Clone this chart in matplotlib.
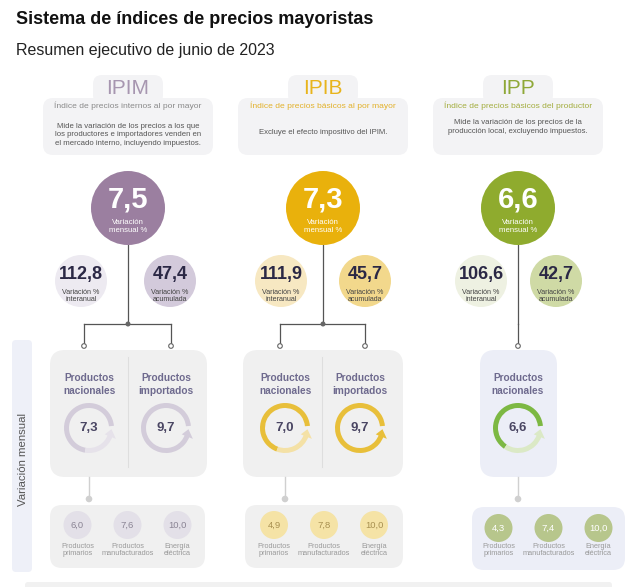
import matplotlib
matplotlib.use('Agg')
import matplotlib.pyplot as plt
from matplotlib.patches import Circle, Wedge, FancyBboxPatch, Polygon
import numpy as np

plt.rcParams['font.family'] = ['Liberation Sans', 'DejaVu Sans']

# datos
titulo = 'Sistema de índices de precios mayoristas'
subtitulo = 'Resumen ejecutivo de junio de 2023'

indices = ['IPIM', 'IPIB', 'IPP']
nombres = ['Índice de precios internos al por mayor',
           'Índice de precios básicos al por mayor',
           'Índice de precios básicos del productor']
descripciones = ['Mide la variación de los precios a los que\nlos productores e importadores venden en\nel mercado interno, incluyendo impuestos.',
                 'Excluye el efecto impositivo del IPIM.',
                 'Mide la variación de los precios de la\nproducción local, excluyendo impuestos.']
var_mensual = [7.5, 7.3, 6.6]
var_interanual = [112.8, 111.9, 106.6]
var_acumulada = [47.4, 45.7, 42.7]
prod_nacionales = [7.3, 7.0, 6.6]
prod_importados = [9.7, 9.7, None]
componentes = ['Productos\nprimarios', 'Productos\nmanufacturados', 'Energía\neléctrica']
comp_valores = [[6.0, 7.6, 10.0],
                [4.9, 7.8, 10.0],
                [4.3, 7.4, 10.0]]

# colores por indice
c_titulo = ['#a796b0', '#e8b41c', '#8fa838']
c_nombre = ['#8a8a8a', '#e2b12a', '#a3ad3e']
c_grande = ['#9b7fa0', '#e9b10c', '#8fab2e']
c_chico1 = ['#edeaf1', '#f7e8c2', '#eef1e2']
c_chico2 = ['#d3cadb', '#f2d88c', '#cfdaa5']
c_anillo = ['#d3ccda', '#e8bf3a', '#7db843']
c_anillo2 = ['#e6e2ea', '#f4e1a6', '#dbe9c6']
c_panel = ['#f0f0f0', '#f0f0f0', '#eceef7']
c_comp = ['#e3e0e8', '#f5e3a6', '#b7c68c']
c_comp_txt = ['#8a8494', '#a89050', '#ffffff']

# layout (pixeles)
W, H = 640, 587
cols = [128, 323, 518]
off_chicos = [(-47, 42), (-42, 42), (-37, 38)]
panel_x = [(50, 207), (243, 403), (480, 557)]
ring_x = [(89, 166), (285, 360), (518, None)]
divisor = [128, 322, None]
comp_panel = [(50, 205, 505), (245, 403, 505), (472, 625, 507)]


def Y(y):
    return H - y


def fmt(v):
    return f'{v:.1f}'.replace('.', ',')


def caja(ax, x0, x1, y0, y1, color, r):
    ax.add_patch(FancyBboxPatch((x0, Y(y1)), x1 - x0, y1 - y0,
                                boxstyle=f'round,pad=0,rounding_size={r}',
                                fc=color, ec='none', zorder=1))


def anillo(ax, x, y, v, c1, c2):
    a1 = 5
    a2 = a1 + v * 35
    ax.add_patch(Wedge((x, Y(y)), 25, a1, min(a2, 340), width=5, fc=c1, ec='none', zorder=3))
    if a2 < 340:
        ax.add_patch(Wedge((x, Y(y)), 25, a2, 340, width=5, fc=c2, ec='none', zorder=3))
    ca = c1 if a2 >= 340 else c2
    b = np.radians(338)
    t = np.radians(357)
    pts = [(x + 17 * np.cos(b), Y(y) + 17 * np.sin(b)),
           (x + 29 * np.cos(b), Y(y) + 29 * np.sin(b)),
           (x + 22.5 * np.cos(t), Y(y) + 22.5 * np.sin(t))]
    ax.add_patch(Polygon(pts, closed=True, fc=ca, ec='none', zorder=3))
    ax.text(x, Y(y), fmt(v), ha='center', va='center', fontsize=9.5,
            fontweight='bold', color='#4a4663', zorder=4)


fig = plt.figure(figsize=(6.4, 5.87), dpi=100)
ax = fig.add_axes([0, 0, 1, 1])
ax.set_xlim(0, W)
ax.set_ylim(0, H)
ax.axis('off')

ax.text(16, Y(19), titulo, fontsize=13, fontweight='bold', color='#111111', va='center')
ax.text(16, Y(50), subtitulo, fontsize=11.5, color='#222222', va='center')

# banda lateral
caja(ax, 12, 32, 340, 572, '#eef0f8', 4)
ax.text(23, Y(460), 'Variación mensual', rotation=90, ha='center', va='center',
        fontsize=8.2, color='#555555')
caja(ax, 25, 612, 582, 590, '#f1f1f1', 3)

for i, cx in enumerate(cols):
    # encabezado
    caja(ax, cx - 35, cx + 35, 75, 104, '#f3f3f5', 9)
    caja(ax, cx - 85, cx + 85, 98, 155, '#f3f3f5', 10)
    ax.text(cx, Y(88), indices[i], ha='center', va='center', fontsize=15,
            color=c_titulo[i], zorder=4)
    ax.text(cx, Y(106), nombres[i], ha='center', va='center', fontsize=6.1,
            color=c_nombre[i], zorder=4)
    desc_y = [135, 133, 127][i]
    ax.text(cx, Y(desc_y), descripciones[i], ha='center', va='center', fontsize=5.6,
            color='#555555', linespacing=1.35, zorder=4)

    # circulo principal
    ax.add_patch(Circle((cx, Y(208)), 37, fc=c_grande[i], ec='none', zorder=3))
    ax.text(cx, Y(199), fmt(var_mensual[i]), ha='center', va='center', fontsize=21,
            fontweight='bold', color='white', zorder=4)
    ax.text(cx, Y(226.5), 'Variación\nmensual %', ha='center', va='center', fontsize=5.6,
            color='white', linespacing=1.15, zorder=4)

    # circulos secundarios
    ol, orr = off_chicos[i]
    for dx, val, col, lab in [(ol, var_interanual[i], c_chico1[i], 'Variación %\ninteranual'),
                              (orr, var_acumulada[i], c_chico2[i], 'Variación %\nacumulada')]:
        ax.add_patch(Circle((cx + dx, Y(281)), 26, fc=col, ec='none', zorder=3))
        ax.text(cx + dx, Y(275), fmt(val), ha='center', va='center', fontsize=13,
                fontweight='bold', color='#2b2845', zorder=4)
        ax.text(cx + dx, Y(296), lab, ha='center', va='center', fontsize=5.1,
                color='#444444', linespacing=1.15, zorder=4)

    # conectores
    xn, xi = ring_x[i]
    if xi is not None:
        ax.plot([cx, cx], [Y(245), Y(324)], color='#555555', lw=0.9, zorder=2)
        ax.plot([xn - 5, xi + 5], [Y(324), Y(324)], color='#555555', lw=0.9, zorder=2)
        ax.add_patch(Circle((cx, Y(324)), 2.5, fc='#666666', ec='none', zorder=3))
        tops = [xn - 5, xi + 5]
    else:
        tops = [xn]
        ax.plot([cx, cx], [Y(245), Y(324)], color='#555555', lw=0.9, zorder=2)
    for tx in tops:
        ax.plot([tx, tx], [Y(324), Y(344)], color='#555555', lw=0.9, zorder=2)
        ax.add_patch(Circle((tx, Y(346)), 2.3, fc='white', ec='#666666', lw=0.8, zorder=3))

    # panel de productos
    px0, px1 = panel_x[i]
    caja(ax, px0, px1, 350, 477, c_panel[i], 15)
    if divisor[i] is not None:
        ax.plot([divisor[i], divisor[i]], [Y(357), Y(467)], color='#dedede', lw=0.8, zorder=2)
    for x, lab, val in [(xn, 'Productos\nnacionales', prod_nacionales[i]),
                        (xi, 'Productos\nimportados', prod_importados[i])]:
        if x is None or val is None:
            continue
        ax.text(x, Y(384.5), lab, ha='center', va='center', fontsize=7.3,
                fontweight='bold', color='#6e6a8e', linespacing=1.3, zorder=4)
        anillo(ax, x, 428, val, c_anillo[i], c_anillo2[i])

    # componentes
    ax.plot([xn, xn], [Y(477), Y(497)], color='#d0d0d0', lw=1, zorder=2)
    ax.add_patch(Circle((xn, Y(499)), 3.3, fc='#d0d0d0', ec='none', zorder=3))
    bx0, bx1, by0 = comp_panel[i]
    caja(ax, bx0, bx1, by0, by0 + 63, c_panel[i], 12)
    bc = (bx0 + bx1) / 2
    cy = by0 + 20 if i < 2 else by0 + 21
    for k, (lab, val) in enumerate(zip(componentes, comp_valores[i])):
        x = bc + (k - 1) * 50
        ax.add_patch(Circle((x, Y(cy)), 14, fc=c_comp[i], ec='none', zorder=3))
        ax.text(x, Y(cy), fmt(val), ha='center', va='center', fontsize=6.8,
                color=c_comp_txt[i], zorder=4)
        ax.text(x, Y(550), lab, ha='center', va='center', fontsize=5.3,
                color='#9a9a9a', linespacing=1.0, zorder=4)

fig.savefig('out.png', dpi=100)
